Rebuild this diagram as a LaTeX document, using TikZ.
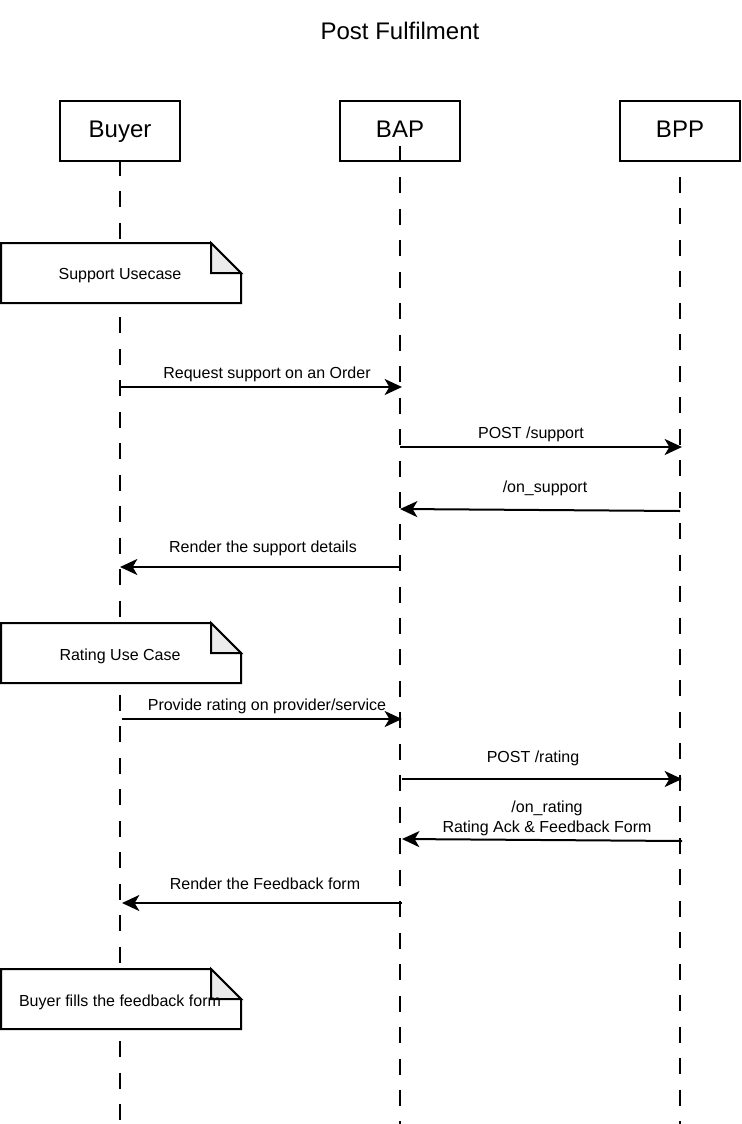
\documentclass[tikz,border=0pt]{standalone}
\usepackage{fontspec}
\setmainfont{Liberation Sans}
\usetikzlibrary{arrows.meta}

\tikzset{every picture/.style={line width=1.5pt}}
\tikzset{
  actorbox/.style={draw, minimum width=90pt, minimum height=45pt, inner sep=0.75pt, text height=13pt, text depth=3.5pt, font=\fontsize{18}{22}\selectfont},
  lifeline/.style={dash pattern={on 12pt off 11.6pt}},
  msg/.style={-{Stealth[length=13pt,width=12pt,inset=3.5pt]}},
  msglabel/.style={inner sep=0.75pt, font=\fontsize{12}{15}\selectfont, align=center},
  notebox/.style={fill=white},
  notefold/.style={fill={rgb,255:red,235;green,235;blue,235}},
}

\begin{document}
\begin{tikzpicture}[x=0.75pt,y=0.75pt,yscale=-1,xscale=1]
    \useasboundingbox (0,0) rectangle (742,1124);
    % Title
    \node (title) [inner sep=0.75pt, font=\fontsize{18}{22}\selectfont] at (400,31) {Post Fulfilment};
    % Actors
    \node (buyer) [actorbox] at (120,131) {Buyer};
    \node (bap) [actorbox] at (400,131) {BAP};
    \node (bpp) [actorbox] at (680,131) {BPP};
    % Lifelines
    \coordinate (buyerTop) at (120,160);
    \coordinate (bapTop) at (400,146);
    \coordinate (bppTop) at (680,177);
    \coordinate (buyerEnd) at (120,1124);
    \coordinate (bapEnd) at (400,1124);
    \coordinate (bppEnd) at (680,1124);
    \draw [lifeline] (buyerTop) -- (buyerEnd);
    \draw [lifeline] (bapTop) -- (bapEnd);
    \draw [lifeline] (bppTop) -- (bppEnd);
    % Note
    \draw [notebox] (1,243) -- (211,243) -- (241,273) -- (241,303) -- (1,303) -- cycle ;
    \draw [notefold] (211,243) -- (211,273) -- (241,273) -- cycle ;
    \node (supportNote) [msglabel] at (120,276) {Support Usecase};
    % Note
    \draw [notebox] (1,623) -- (211,623) -- (241,653) -- (241,683) -- (1,683) -- cycle ;
    \draw [notefold] (211,623) -- (211,653) -- (241,653) -- cycle ;
    \node (ratingNote) [msglabel] at (120,656) {Rating Use Case};
    % Note
    \draw [notebox] (1,969) -- (211,969) -- (241,999) -- (241,1029) -- (1,1029) -- cycle ;
    \draw [notefold] (211,969) -- (211,999) -- (241,999) -- cycle ;
    \node (fillNote) [msglabel] at (120,1002) {Buyer fills the feedback form};
    % Message points
    \coordinate (m1a) at (120,387);  \coordinate (m1b) at (402,387);
    \coordinate (m2a) at (400,447);  \coordinate (m2b) at (682,447);
    \coordinate (m3a) at (680,511);  \coordinate (m3b) at (400,509);
    \coordinate (m4a) at (400,567);  \coordinate (m4b) at (120,567);
    \coordinate (m5a) at (122,719);  \coordinate (m5b) at (402,719);
    \coordinate (m6a) at (402,779);  \coordinate (m6b) at (682,779);
    \coordinate (m7a) at (682,841);  \coordinate (m7b) at (402,839);
    \coordinate (m8a) at (402,903);  \coordinate (m8b) at (122,903);
    % Messages
    \draw [msg] (m1a) -- (m1b) ;
    \draw [msg] (m2a) -- (m2b) ;
    \draw [msg] (m3a) -- (m3b) ;
    \draw [msg] (m4a) -- (m4b) ;
    \draw [msg] (m5a) -- (m5b) ;
    \draw [msg] (m6a) -- (m6b) ;
    \draw [msg] (m7a) -- (m7b) ;
    \draw [msg] (m8a) -- (m8b) ;
    % Message labels
    \node (l1) [msglabel] at (267,374) {Request support on an Order};
    \node (l2) [msglabel] at (531,434) {POST /support};
    \node (l3) [msglabel] at (545,488) {/on\_support};
    \node (l4) [msglabel] at (263,548) {Render the support details};
    \node (l5) [msglabel] at (267,706) {Provide rating on provider/service};
    \node (l6) [msglabel] at (533,758) {POST /rating};
    \node (l7) [msglabel] at (547,818) {/on\_rating\\Rating Ack \& Feedback Form};
    \node (l8) [msglabel] at (265,884) {Render the Feedback form};

\end{tikzpicture}
\end{document}
